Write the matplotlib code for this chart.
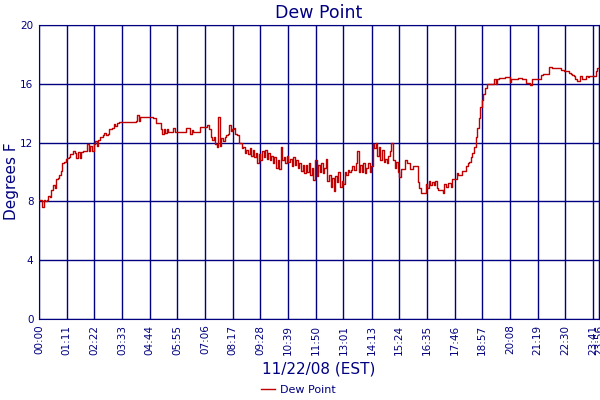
import matplotlib.pyplot as plt
import numpy as np

# dew point readings, one every 4 minutes from 00:00, one row per hour
hour_00 = [8.1, 8.1, 7.6, 8.1, 8.0, 8.1, 8.4, 8.3, 8.8, 9.1, 8.9, 9.5, 9.6, 9.8, 10.1]
hour_01 = [10.6, 10.7, 10.9, 10.95, 11.0, 11.2, 11.2, 11.4, 11.3, 10.95, 11.35, 10.95, 11.35, 11.4, 11.4]
hour_02 = [11.4, 11.9, 11.4, 11.8, 11.4, 11.9, 12.1, 11.8, 12.2, 12.4, 12.4, 12.5, 12.65, 12.5, 12.6]
hour_03 = [12.9, 12.9, 13.0, 13.25, 13.1, 13.3, 13.42, 13.42, 13.42, 13.42, 13.42, 13.42, 13.42, 13.42, 13.42]
hour_04 = [13.42, 13.42, 13.5, 13.85, 13.5, 13.76, 13.76, 13.76, 13.76, 13.76, 13.76, 13.76, 13.76, 13.7, 13.7]
hour_05 = [13.3, 13.3, 13.3, 12.9, 12.6, 12.9, 12.65, 12.9, 12.75, 12.75, 12.75, 13.0, 12.75, 12.75, 12.75]
hour_06 = [12.75, 12.75, 12.75, 12.75, 12.97, 12.97, 12.97, 12.6, 12.85, 12.75, 12.75, 12.75, 12.75, 13.04, 13.04]
hour_07 = [13.04, 13.04, 13.04, 13.2, 12.9, 12.4, 12.2, 12.4, 11.9, 11.7, 13.76, 11.8, 12.3, 12.1, 12.4]
hour_08 = [12.5, 12.6, 13.2, 12.8, 12.9, 13.0, 12.6, 12.5, 11.95, 12.0, 11.6, 11.7, 11.3, 11.5, 11.2]
hour_09 = [11.6, 11.1, 11.5, 11.0, 11.3, 10.6, 11.2, 10.8, 11.4, 11.0, 11.5, 10.9, 11.3, 10.8, 11.1]
hour_10 = [10.6, 11.0, 10.3, 10.8, 10.2, 11.7, 10.8, 11.0, 10.6, 11.1, 10.7, 10.9, 10.4, 11.0, 10.5]
hour_11 = [10.8, 10.3, 10.6, 10.1, 10.5, 9.9, 10.5, 10.0, 10.6, 9.8, 10.3, 9.45, 10.8, 9.7, 10.5]
hour_12 = [10.0, 10.6, 9.9, 10.3, 10.9, 9.4, 9.8, 9.0, 9.6, 8.7, 9.7, 9.3, 10.0, 9.0, 9.4]
hour_13 = [9.2, 10.0, 9.8, 10.15, 10.0, 10.15, 10.4, 10.15, 10.6, 11.4, 10.0, 10.5, 10.0, 10.6, 9.9]
hour_14 = [10.3, 10.6, 10.0, 10.4, 11.9, 11.6, 12.0, 11.1, 11.7, 10.8, 11.5, 10.7, 10.9, 10.6, 11.1]
hour_15 = [11.4, 11.95, 10.8, 10.3, 10.7, 10.0, 9.68, 10.2, 10.2, 10.2, 10.8, 10.6, 10.6, 10.2, 10.2]
hour_16 = [10.4, 10.4, 10.4, 9.3, 8.9, 8.55, 8.55, 8.6, 9.2, 8.9, 9.4, 9.1, 9.3, 9.1, 9.4]
hour_17 = [8.9, 8.8, 8.8, 8.8, 8.6, 9.2, 9.0, 9.25, 9.25, 9.0, 9.5, 9.5, 9.5, 9.9, 9.8]
hour_18 = [9.8, 10.1, 10.1, 10.1, 10.4, 10.6, 10.7, 11.0, 11.3, 11.7, 12.4, 13.0, 13.7, 14.4, 14.9]
hour_19 = [15.3, 15.7, 15.96, 15.96, 15.96, 15.96, 15.96, 16.3, 16.0, 16.3, 16.37, 16.37, 16.37, 16.37, 16.44]
hour_20 = [16.44, 16.44, 16.1, 16.3, 16.3, 16.3, 16.3, 16.4, 16.4, 16.4, 16.3, 16.3, 16.03, 16.03, 16.03]
hour_21 = [15.9, 16.3, 16.3, 16.3, 16.3, 16.3, 16.3, 16.6, 16.67, 16.67, 16.67, 16.67, 17.12, 17.12, 17.05]
hour_22 = [17.05, 17.05, 17.05, 17.05, 17.05, 16.95, 16.95, 16.9, 16.85, 16.85, 16.75, 16.7, 16.6, 16.5, 16.3]
hour_23 = [16.2, 16.2, 16.5, 16.3, 16.35, 16.3, 16.5, 16.45, 16.5, 16.5, 16.5, 16.5, 16.9, 17.1, 17.1]

tick_labels = ["00:00", "01:11", "02:22", "03:33", "04:44", "05:55", "07:06",
               "08:17", "09:28", "10:39", "11:50", "13:01", "14:13", "15:24",
               "16:35", "17:46", "18:57", "20:08", "21:19", "22:30", "23:41",
               "23:56"]
y_ticks = [0, 4, 8, 12, 16, 20]

navy = "#000080"

dew_point = (hour_00 + hour_01 + hour_02 + hour_03 + hour_04 + hour_05 +
             hour_06 + hour_07 + hour_08 + hour_09 + hour_10 + hour_11 +
             hour_12 + hour_13 + hour_14 + hour_15 + hour_16 + hour_17 +
             hour_18 + hour_19 + hour_20 + hour_21 + hour_22 + hour_23)
minutes = np.arange(len(dew_point)) * 4


def to_minutes(label):
    h, m = label.split(":")
    return int(h) * 60 + int(m)


tick_pos = [to_minutes(t) for t in tick_labels]

fig = plt.figure(figsize=(6, 4), dpi=100)
ax = fig.add_axes([0.065, 0.2025, 0.933, 0.735])

ax.plot(minutes, dew_point, drawstyle="steps-post", color="#c00000",
        lw=1, label="Dew Point", zorder=3)

ax.set_xlim(0, tick_pos[-1])
ax.set_ylim(0, 20)
ax.set_xticks(tick_pos)
ax.set_xticklabels(tick_labels, rotation=90)
ax.set_yticks(y_ticks)
ax.grid(True, color=navy, lw=1)
ax.tick_params(length=0, colors=navy, labelsize=7.5, pad=4)
for s in ax.spines.values():
    s.set_color(navy)

ax.set_title("Dew Point", color=navy, fontsize=12.5, pad=5)
ax.set_ylabel("Degrees F", color=navy, fontsize=11)
# label anchor is the right edge of the rotated text
ax.yaxis.set_label_coords(-0.036, 0.47)
ax.set_xlabel("11/22/08 (EST)", color=navy, fontsize=11, labelpad=5)

leg = fig.legend(loc="lower center", bbox_to_anchor=(0.497, -0.012),
                 frameon=False, fontsize=8, handlelength=1.3,
                 handletextpad=0.4)
for t in leg.get_texts():
    t.set_color(navy)

fig.savefig("out.png", dpi=100)
